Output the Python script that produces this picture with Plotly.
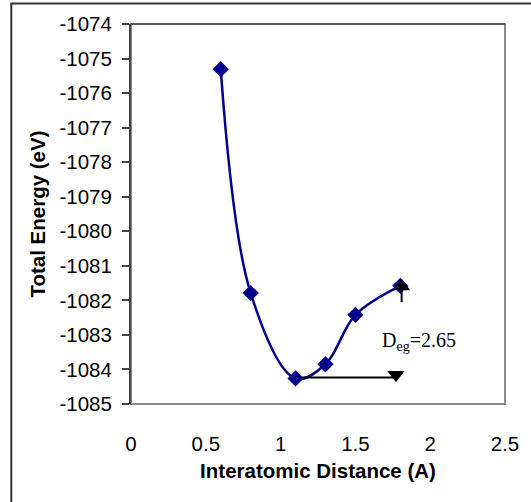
import plotly.graph_objects as go

# Data
distance = [0.6, 0.8, 1.1, 1.3, 1.5, 1.8]
energy = [-1075.31, -1081.79, -1084.26, -1083.85, -1082.42, -1081.58]

# Annotation (D_eg arrows)
horiz_x = [1.13, 1.771]
horiz_y = [-1084.23, -1084.23]
down_tri_x = [1.771]
down_tri_y = [-1084.15]
vert_x = [1.809, 1.809]
vert_y = [-1082.05, -1081.7]
up_tri_x = [1.809]
up_tri_y = [-1081.6]
label_x = 1.665
label_y = -1083.2
label_text = "D<sub>eg</sub>=2.65"

x_ticks = [0, 0.5, 1, 1.5, 2, 2.5]
x_ticktext = ["0", "0.5", "1", "1.5", "2", "2.5"]
y_ticks = [-1085, -1084, -1083, -1082, -1081, -1080, -1079, -1078, -1077, -1076, -1075, -1074]
y_ticktext = ["-1085", "-1084", "-1083", "-1082", "-1081", "-1080", "-1079", "-1078", "-1077", "-1076", "-1075", "-1074"]

W, H = 531, 502
ml, mr, mt, mb = 131, 22, 24, 98
pw, ph = W - ml - mr, H - mt - mb

fig = go.Figure()
fig.add_trace(go.Scatter(
    x=distance, y=energy, mode="lines+markers",
    line=dict(color="#00008B", width=2.5, shape="spline", smoothing=1),
    marker=dict(symbol="diamond", size=12.5, color="#00008B"),
    showlegend=False, hoverinfo="skip"))
fig.add_trace(go.Scatter(x=horiz_x, y=horiz_y, mode="lines",
                         line=dict(color="black", width=2), showlegend=False, hoverinfo="skip"))
fig.add_trace(go.Scatter(x=vert_x, y=vert_y, mode="lines",
                         line=dict(color="black", width=2), showlegend=False, hoverinfo="skip"))
fig.add_trace(go.Scatter(x=down_tri_x, y=down_tri_y, mode="markers",
                         marker=dict(symbol="triangle-down", size=15, color="black"),
                         showlegend=False, hoverinfo="skip"))
fig.add_trace(go.Scatter(x=up_tri_x, y=up_tri_y, mode="markers",
                         marker=dict(symbol="triangle-up", size=15, color="black"),
                         showlegend=False, hoverinfo="skip"))

fig.add_annotation(x=label_x, y=label_y, xref="x", yref="y", text=label_text,
                   showarrow=False, xanchor="left", yanchor="middle",
                   font=dict(family="Liberation Serif", size=20, color="black"))

# plot-area frame
fig.add_shape(type="rect", xref="paper", yref="paper", x0=0, y0=0, x1=1, y1=1,
              line=dict(color="#888888", width=2), layer="below")
fig.add_shape(type="line", xref="paper", yref="paper", x0=0, y0=1, x1=1, y1=1,
              line=dict(color="#555555", width=2))
# outer chart frame
fig.add_shape(type="rect", xref="paper", yref="paper",
              x0=(10 - ml) / pw, x1=(W + 10 - ml) / pw,
              y0=-(H + 10 - mt - ph) / ph, y1=1 + (mt - 3.5) / ph,
              line=dict(color="#333333", width=2))

font = dict(family="Liberation Sans", size=20.5, color="black")
fig.update_layout(
    width=W, height=H,
    margin=dict(l=ml, r=mr, t=mt, b=mb, pad=0),
    paper_bgcolor="white", plot_bgcolor="white",
    font=font,
    xaxis=dict(range=[0, 2.5], tickvals=x_ticks, ticktext=x_ticktext,
               showgrid=False, zeroline=False, showline=False, ticks="",
               ticklabelstandoff=25, tickfont=font,
               title=dict(text="<b>Interatomic Distance (A)</b>", font=font, standoff=10)),
    yaxis=dict(range=[-1085, -1074], tickvals=y_ticks, ticktext=y_ticktext,
               showgrid=False, zeroline=False, showline=True, linecolor="#444444", linewidth=2,
               ticks="outside", ticklen=7, tickcolor="#444444", tickwidth=1.5,
               ticklabelstandoff=6, tickfont=font,
               title=dict(text="<b>Total Energy (eV)</b>", font=font, standoff=8)),
)

fig.write_html("out.html")
